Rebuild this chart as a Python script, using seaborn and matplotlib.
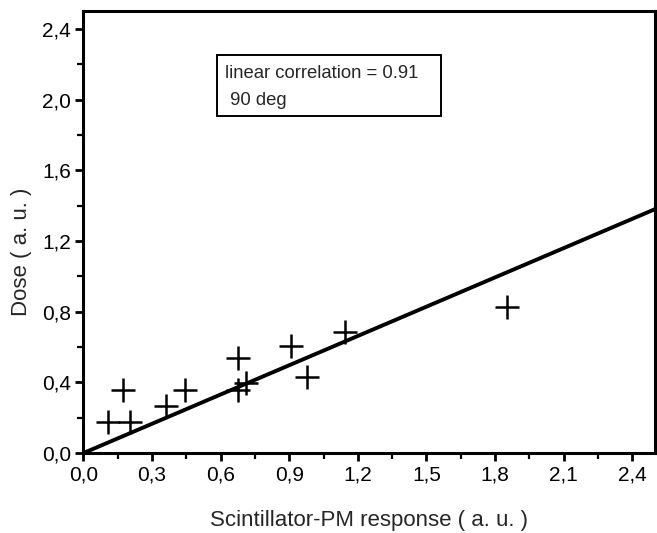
import numpy as np
import pandas as pd
import matplotlib
matplotlib.use('Agg')
import matplotlib.pyplot as plt
import seaborn as sns
from matplotlib.patches import Rectangle
from matplotlib.ticker import MultipleLocator, FuncFormatter

# --- Data ---
response = [0.108, 0.203, 0.174, 0.359, 0.446, 0.676, 0.676, 0.713, 0.909, 0.977, 1.145, 1.852]
dose = [0.174, 0.174, 0.357, 0.266, 0.357, 0.536, 0.357, 0.394, 0.607, 0.432, 0.683, 0.828]
fit_slope = 0.552
fit_intercept = 0.0
corr_line1 = 'linear correlation = 0.91'
corr_line2 = ' 90 deg'

df = pd.DataFrame({'response': response, 'dose': dose})

# --- Style ---
sns.set_style('ticks')
plt.rcParams['font.family'] = ['Liberation Sans', 'DejaVu Sans']

fig = plt.figure(figsize=(6.57, 5.33), dpi=100)
ax = fig.add_axes([0.127, 0.150, 0.870, 0.829])

# fit line across the whole x range
x_fit = np.array([0.0, 2.5])
fit_df = pd.DataFrame({'response': x_fit, 'dose': fit_intercept + fit_slope * x_fit})
sns.lineplot(data=fit_df, x='response', y='dose', color='black', linewidth=2.8, ax=ax)

sns.scatterplot(data=df, x='response', y='dose', marker='+', s=280, color='black',
                linewidth=1.8, ax=ax, zorder=3)

ax.set_xlim(0, 2.5)
ax.set_ylim(0, 2.5)
ax.xaxis.set_major_locator(MultipleLocator(0.3))
ax.xaxis.set_minor_locator(MultipleLocator(0.15))
ax.yaxis.set_major_locator(MultipleLocator(0.4))
ax.yaxis.set_minor_locator(MultipleLocator(0.2))
comma = FuncFormatter(lambda v, p: f'{v:.1f}'.replace('.', ','))
ax.xaxis.set_major_formatter(comma)
ax.yaxis.set_major_formatter(comma)

for s in ax.spines.values():
    s.set_visible(True)
    s.set_linewidth(2.2)
    s.set_color('black')
ax.tick_params(which='major', direction='out', length=6, width=2, labelsize=15,
               colors='black', pad=3)
ax.tick_params(which='minor', direction='out', length=4, width=1.6, colors='black')

ax.set_xlabel('Scintillator-PM response ( a. u. )', fontsize=16)
ax.set_ylabel('Dose ( a. u. )', fontsize=16)
ax.xaxis.set_label_coords(0.5, -0.128)
ax.yaxis.set_label_coords(-0.09, 0.455)

# annotation box
ax.add_patch(Rectangle((0.2336, 0.7624), 0.3919, 0.1381, transform=ax.transAxes,
                       facecolor='white', edgecolor='black', linewidth=1.4, zorder=4))
ax.text(0.2476, 0.859, corr_line1, transform=ax.transAxes, fontsize=13.3,
        va='center', ha='left', zorder=5)
ax.text(0.2476, 0.797, corr_line2, transform=ax.transAxes, fontsize=13.3,
        va='center', ha='left', zorder=5)

fig.savefig('out.png', dpi=100)
